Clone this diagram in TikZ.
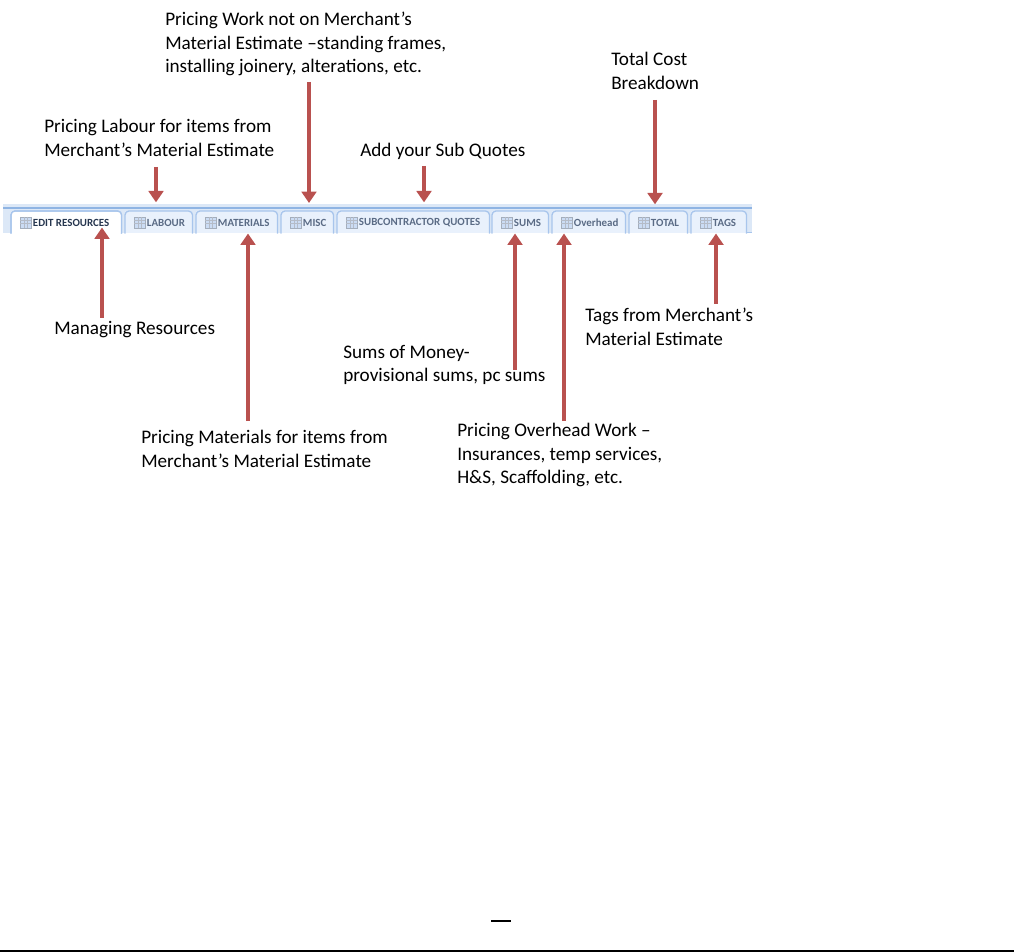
\documentclass[tikz,border=0pt]{standalone}
\usepackage{fontspec}
\setmainfont{Carlito}
\usetikzlibrary{arrows.meta,positioning,calc}
\definecolor{arrowred}{HTML}{B9514F}
\definecolor{barblue}{HTML}{DCE8F7}
\definecolor{barline}{HTML}{8FB4E3}
\definecolor{tabfill}{HTML}{E9F1FC}
\definecolor{tabline}{HTML}{A8C5EC}
\definecolor{tabtextgray}{HTML}{5A6B85}
\definecolor{tabtextdark}{HTML}{26364F}

\begin{document}
\begin{tikzpicture}[
  x=0.75pt, y=-0.75pt,
  callout/.style={
    anchor=north west,
    align=left,
    inner sep=0pt,
    font=\fontsize{14.4}{17.6}\selectfont
  },
  tabbox/.style={
    anchor=north west,
    inner sep=0pt,
    minimum height=16.5pt,
    fill=tabfill
  },
  tabicon/.style={
    draw=tabtextgray!55,
    fill=tabline!60,
    inner sep=0pt,
    minimum size=8pt
  },
  tablabel/.style={
    right=1.2pt of #1,
    inner sep=0pt
  },
  plaintab/.style={font=\fontsize{8.2}{9}\selectfont\bfseries, text=tabtextgray},
  activetab/.style={font=\fontsize{8.2}{9}\selectfont\bfseries, text=tabtextdark},
  arrow/.style={-{Triangle[length=8.5pt,width=11pt]}, line width=3pt, draw=arrowred}
]
\useasboundingbox (0,0) rectangle (1014,952);

% tab strip
\fill[barblue] (3,204) rectangle (752,233);
\draw[barline, line width=1.5pt] (3,208) -- (752,208);
\draw[tabline] (746,232.5) -- (752,232.5);

\foreach \tabname/\xl/\xr/\tabtext/\tabstyle in {
  edit/11/121/EDIT RESOURCES/activetab,
  labour/125/192/LABOUR/plaintab,
  materials/196/277/MATERIALS/plaintab,
  misc/281/333/MISC/plaintab,
  sub/337/489/SUBCONTRACTOR QUOTES/plaintab,
  sums/492/548/SUMS/plaintab,
  overhead/552/625/Overhead/plaintab,
  total/629/687/TOTAL/plaintab,
  tags/691/746/TAGS/plaintab}{
  \node[tabbox, minimum width={(\xr-\xl)*0.75pt}] (\tabname tab) at (\xl,211) {};
  \draw[tabline, line width=1pt, rounded corners=3pt]
    (\tabname tab.south west) -- (\tabname tab.north west) -- (\tabname tab.north east) -- (\tabname tab.south east);
  \node[tabicon] (\tabname icon) at (\xl+14.5,222.5) {};
  \draw[tabtextgray!45, line width=0.3pt]
    (\tabname icon.north west) ++(0,3) -- ++(11,0)
    (\tabname icon.north west) ++(0,6) -- ++(11,0)
    (\tabname icon.north west) ++(4,0) -- ++(0,11)
    (\tabname icon.north west) ++(7.5,0) -- ++(0,11);
  \node[tablabel=\tabname icon, \tabstyle] (\tabname text) {\tabtext};
}
\fill[white] (11.5,212) rectangle (120.5,233);
\draw[tabline, line width=1pt, rounded corners=3pt]
  (edittab.south west) -- (edittab.north west) -- (edittab.north east) -- (edittab.south east);
\node[tabicon] (editicon) at (25.5,222.5) {};
\draw[tabtextgray!45, line width=0.3pt]
  (editicon.north west) ++(0,3) -- ++(11,0)
  (editicon.north west) ++(0,6) -- ++(11,0)
  (editicon.north west) ++(4,0) -- ++(0,11)
  (editicon.north west) ++(7.5,0) -- ++(0,11);
\node[tablabel=editicon, activetab] {EDIT RESOURCES};

% callouts above
\node[callout] (worklabel) at (165,12) {Pricing Work not on Merchant’s\\Material Estimate –standing frames,\\installing joinery, alterations, etc.};
\node[callout] (labourlabel) at (44,119) {Pricing Labour for items from\\Merchant’s Material Estimate};
\node[callout] (quoteslabel) at (360,143) {Add your Sub Quotes};
\node[callout] (costlabel) at (611,52) {Total Cost\\Breakdown};

% callouts below
\node[callout] (resourcelabel) at (54,321) {Managing Resources};
\node[callout] (materiallabel) at (141,430) {Pricing Materials for items from\\Merchant’s Material Estimate};
\node[callout] (moneylabel) at (343,345) {Sums of Money-\\provisional sums, pc sums};
\node[callout] (overheadlabel) at (457,423) {Pricing Overhead Work –\\Insurances, temp services,\\H\&S, Scaffolding, etc.};
\node[callout] (tagslabel) at (585,308) {Tags from Merchant’s\\Material Estimate};

\coordinate (labourtail) at (156,167);
\coordinate (misctail) at (309,82);
\coordinate (subtail) at (424,166);
\coordinate (totaltail) at (655,100);
\coordinate (edittail) at (102,318);
\coordinate (materialstail) at (248,421);
\coordinate (sumstail) at (515,370);
\coordinate (overheadtail) at (564,421);
\coordinate (tagstail) at (716,304);

\draw[arrow, shorten >=6.5pt] (labourtail) -- (labourtail |- labourtab.north);
\draw[arrow, shorten >=6pt] (misctail) -- (misctail |- misctab.north);
\draw[arrow, shorten >=6.5pt] (subtail) -- (subtail |- subtab.north);
\draw[arrow, shorten >=5pt] (totaltail) -- (totaltail |- totaltab.north);
\draw[arrow, shorten >=-4.5pt] (edittail) -- (edittail |- edittab.south);
\draw[arrow] (materialstail) -- (materialstail |- materialstab.south);
\draw[arrow] (sumstail) -- (sumstail |- sumstab.south);
\draw[arrow] (overheadtail) -- (overheadtail |- overheadtab.south);
\draw[arrow] (tagstail) -- (tagstail |- tagstab.south);

% page rules
\draw[black, line width=1.5pt] (491,920.5) -- (511,920.5);
\draw[black, line width=1pt] (0,951) -- (1014,951);

\end{tikzpicture}
\end{document}
